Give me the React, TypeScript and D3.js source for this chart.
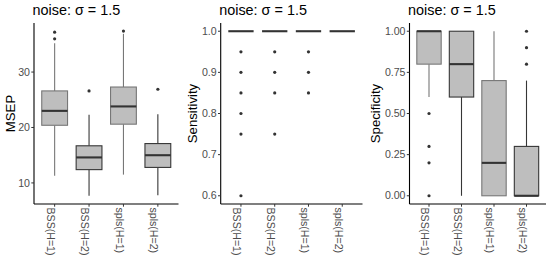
import React from 'react';
import * as d3 from 'd3';

// categories shared by the three panels
const methods = ['BSS(H=1)', 'BSS(H=2)', 'spls(H=1)', 'spls(H=2)'];

// MSEP box stats
const msepLow = [11.3, 7.7, 11.5, 7.8];
const msepQ1 = [20.4, 12.4, 20.6, 12.8];
const msepMed = [23.0, 14.6, 23.8, 15.0];
const msepQ3 = [26.6, 16.7, 27.3, 17.1];
const msepHigh = [35.2, 22.3, 36.9, 22.4];
const msepOut = [[36.0, 37.2], [26.6], [37.4], [26.9]];
const msepTicks = [10, 20, 30];

// Sensitivity box stats
const sensLow = [1, 1, 1, 1];
const sensQ1 = [1, 1, 1, 1];
const sensMed = [1, 1, 1, 1];
const sensQ3 = [1, 1, 1, 1];
const sensHigh = [1, 1, 1, 1];
const sensOut = [[0.95, 0.9, 0.85, 0.8, 0.75, 0.6], [0.95, 0.9, 0.85, 0.75], [0.95, 0.9, 0.85], []];
const sensTicks = [0.6, 0.7, 0.8, 0.9, 1.0];

// Specificity box stats
const specLow = [0.6, 0.0, 0.0, 0.0];
const specQ1 = [0.8, 0.6, 0.0, 0.0];
const specMed = [1.0, 0.8, 0.2, 0.0];
const specQ3 = [1.0, 1.0, 0.7, 0.3];
const specHigh = [1.0, 1.0, 1.0, 0.7];
const specOut = [[0.5, 0.3, 0.2, 0.0], [], [], [0.8, 0.9, 1.0]];
const specTicks = [0, 0.25, 0.5, 0.75, 1.0];

const FONT = 'Liberation Sans, Arial, Helvetica, sans-serif';
const TOP = 23;
const BOTTOM = 204;

type PanelProps = {
  left: number;
  right: number;
  domain: [number, number];
  ticks: number[];
  fmt: (v: number) => string;
  yTitle: string;
  yTitleX: number;
  low: number[];
  q1: number[];
  med: number[];
  q3: number[];
  high: number[];
  out: number[][];
};

const Panel = (p: PanelProps) => {
  // ggplot style discrete axis: 0.6 units expansion each side
  const x = d3.scalePoint().domain(methods).range([p.left, p.right]).padding(0.6);
  const unit = x.step();
  const bw = unit * 0.75;
  const y = d3.scaleLinear().domain(p.domain).range([BOTTOM, TOP]);
  const strokeFor = (i: number) => (i % 2 === 0 ? '#777777' : '#363636');

  return (
    <g>
      <text x={p.left - 1.5} y={15} fontFamily={FONT} fontSize={14.4} fill="#000">
        noise: σ<tspan dx={4}>=</tspan><tspan dx={4}>1.5</tspan>
      </text>
      <text
        transform={`translate(${p.yTitleX},${(TOP + BOTTOM) / 2}) rotate(-90)`}
        textAnchor="middle"
        dy="0.35em"
        fontFamily={FONT}
        fontSize={13.2}
        fill="#000"
      >
        {p.yTitle}
      </text>
      {methods.map((m, i) => {
        const c = x(m) as number;
        const s = strokeFor(i);
        return (
          <g key={m}>
            <line x1={c} x2={c} y1={y(p.q3[i])} y2={y(p.high[i])} stroke={s} strokeWidth={1.1} />
            <line x1={c} x2={c} y1={y(p.q1[i])} y2={y(p.low[i])} stroke={s} strokeWidth={1.1} />
            <rect
              x={c - bw / 2}
              width={bw}
              y={y(p.q3[i])}
              height={Math.max(0, y(p.q1[i]) - y(p.q3[i]))}
              fill="#bebebe"
              stroke={s}
              strokeWidth={1.1}
            />
            <line x1={c - bw / 2} x2={c + bw / 2} y1={y(p.med[i])} y2={y(p.med[i])} stroke="#333333" strokeWidth={2.1} />
            {p.out[i].map((v, j) => (
              <circle key={j} cx={c} cy={y(v)} r={1.6} fill="#333333" />
            ))}
          </g>
        );
      })}
      <line x1={p.left} x2={p.left} y1={TOP} y2={BOTTOM} stroke="#000" strokeWidth={1.1} />
      <line x1={p.left} x2={p.right} y1={BOTTOM} y2={BOTTOM} stroke="#000" strokeWidth={1.1} />
      {p.ticks.map((t) => (
        <g key={t}>
          <line x1={p.left - 2.7} x2={p.left} y1={y(t)} y2={y(t)} stroke="#333" strokeWidth={1} />
          <text
            x={p.left - 4}
            y={y(t)}
            dy="0.35em"
            textAnchor="end"
            fontFamily={FONT}
            fontSize={10.6}
            fill="#4d4d4d"
          >
            {p.fmt(t)}
          </text>
        </g>
      ))}
      {methods.map((m) => {
        const c = x(m) as number;
        return (
          <g key={m}>
            <line x1={c} x2={c} y1={BOTTOM} y2={BOTTOM + 2.7} stroke="#333" strokeWidth={1} />
            <text
              transform={`translate(${c - 7.7},${207.5}) rotate(90)`}
              textAnchor="start"
              fontFamily={FONT}
              fontSize={10.6}
              fill="#4d4d4d"
            >
              {m}
            </text>
          </g>
        );
      })}
    </g>
  );
};

export default function App() {
  return (
    <svg width={550} height={275} style={{ display: 'block', position: 'absolute', left: 0, top: 0, background: '#fff' }}>
      <Panel
        left={34}
        right={178.5}
        domain={[6.2, 38.85]}
        ticks={msepTicks}
        fmt={d3.format('d')}
        yTitle="MSEP"
        yTitleX={10}
        low={msepLow}
        q1={msepQ1}
        med={msepMed}
        q3={msepQ3}
        high={msepHigh}
        out={msepOut}
      />
      <Panel
        left={220.7}
        right={362.5}
        domain={[0.58, 1.02]}
        ticks={sensTicks}
        fmt={d3.format('.1f')}
        yTitle="Sensitivity"
        yTitleX={192.5}
        low={sensLow}
        q1={sensQ1}
        med={sensMed}
        q3={sensQ3}
        high={sensHigh}
        out={sensOut}
      />
      <Panel
        left={409.5}
        right={546}
        domain={[-0.05, 1.05]}
        ticks={specTicks}
        fmt={d3.format('.2f')}
        yTitle="Specificity"
        yTitleX={375}
        low={specLow}
        q1={specQ1}
        med={specMed}
        q3={specQ3}
        high={specHigh}
        out={specOut}
      />
    </svg>
  );
}
